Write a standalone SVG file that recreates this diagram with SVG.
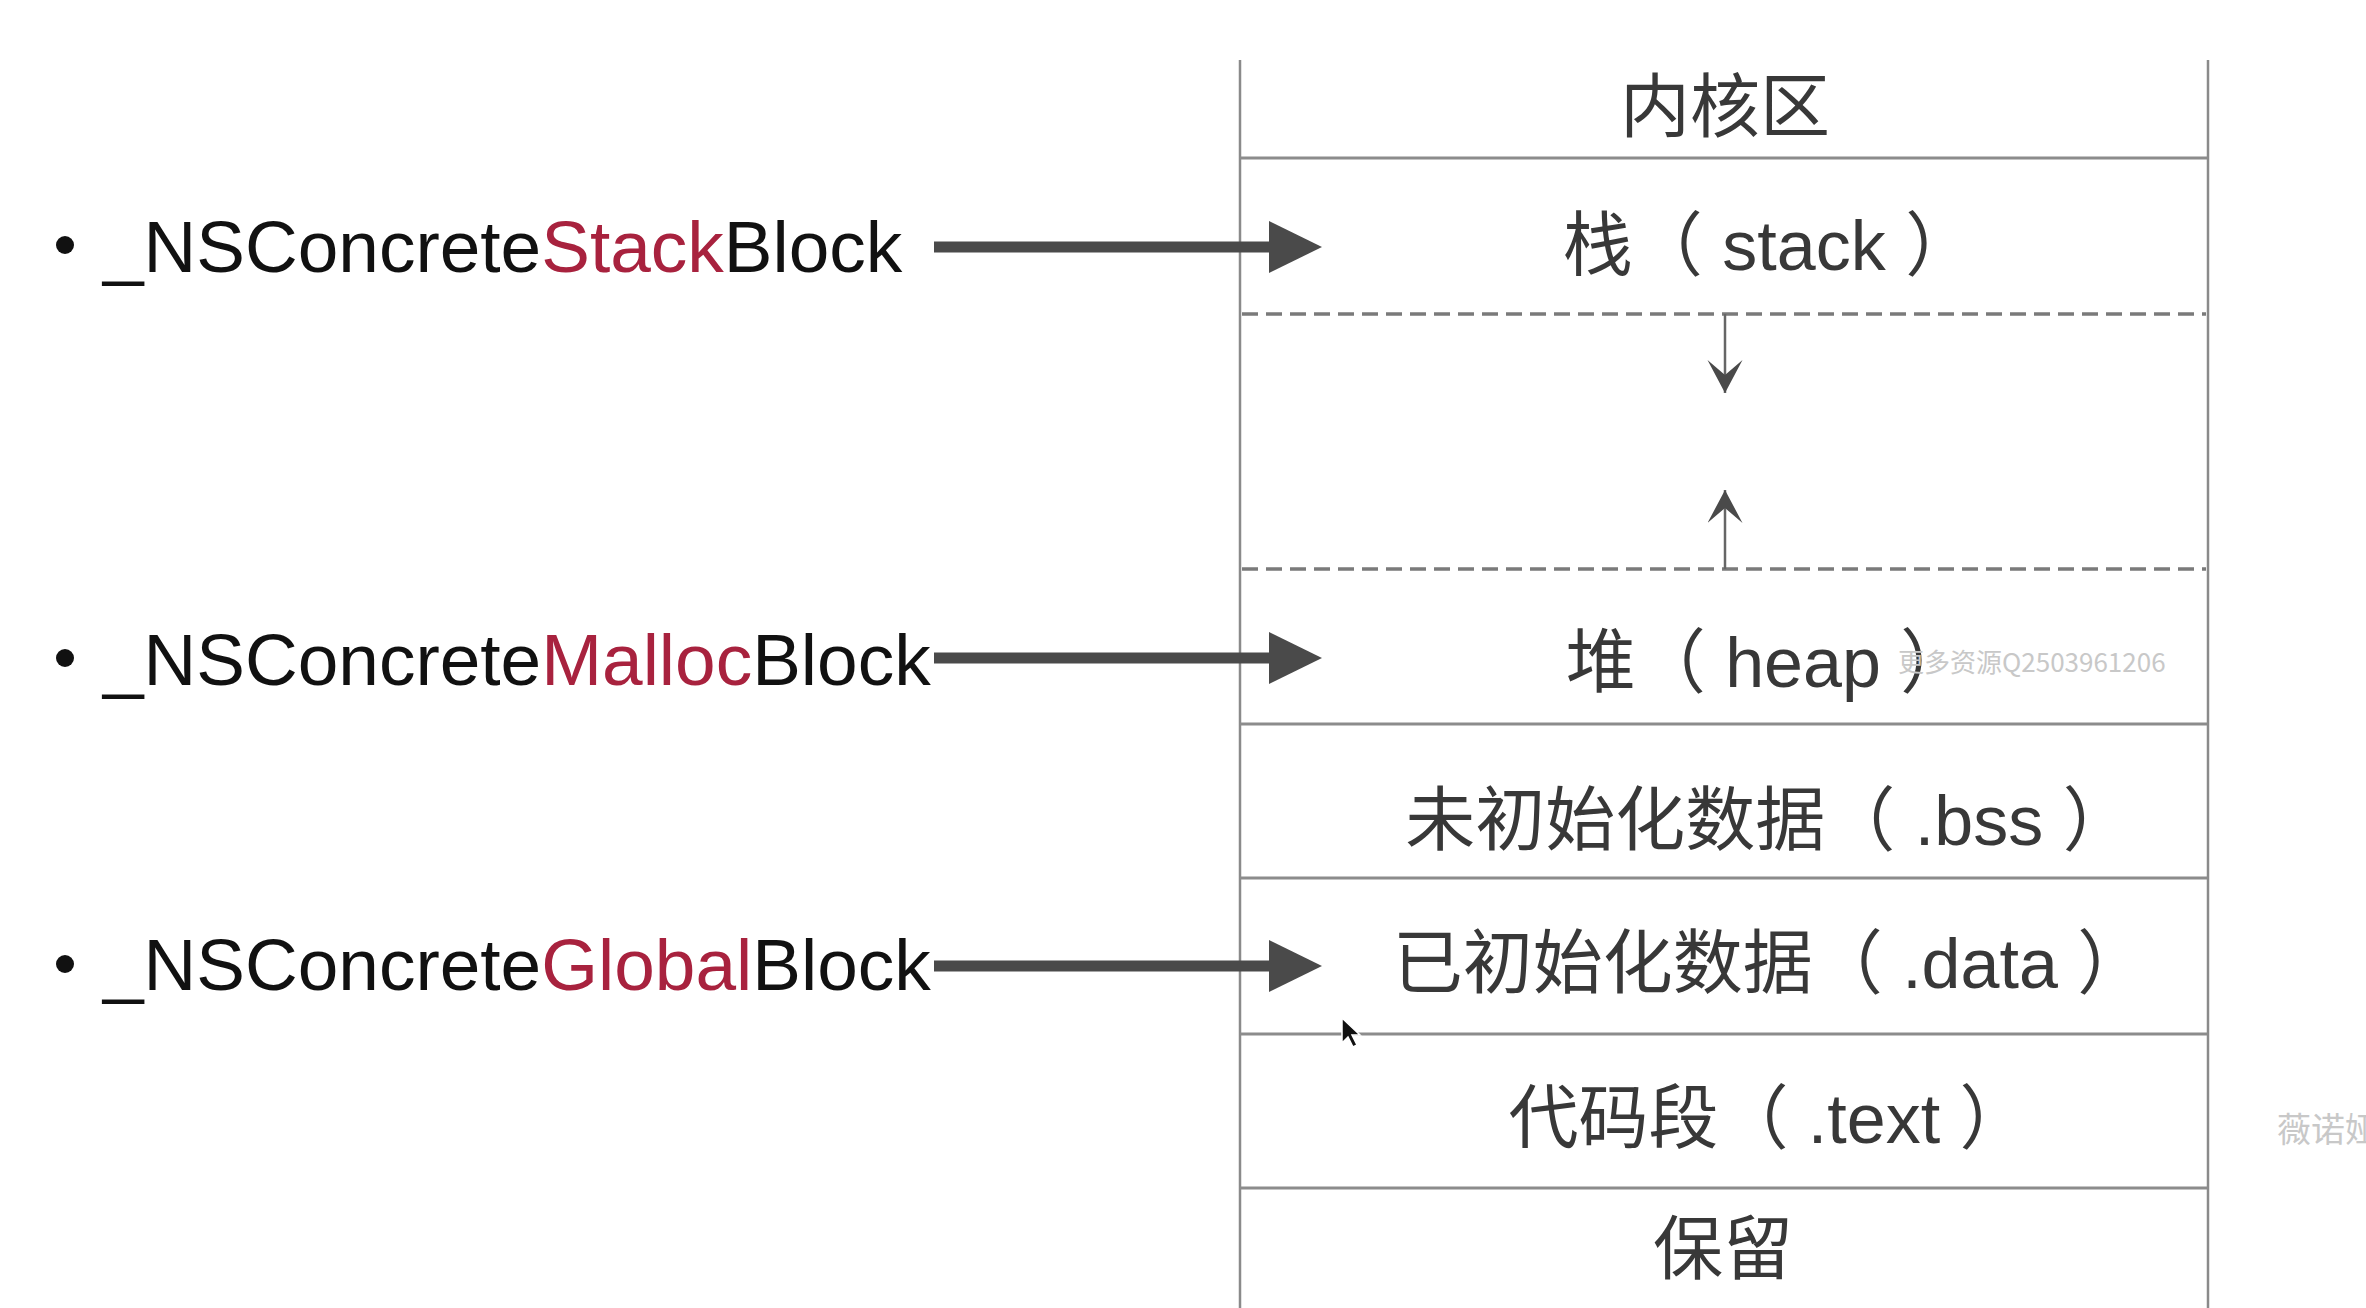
<svg xmlns="http://www.w3.org/2000/svg" width="2366" height="1308" viewBox="0 0 2366 1308">
<style>
.frame{stroke:#8a8a8a;stroke-width:2.5;fill:none}
.sep{stroke:#8c8c8c;stroke-width:3;fill:none}
.dash{stroke:#7a7a7a;stroke-width:3.5;stroke-dasharray:16 8;fill:none}
.seg{font-family:"Liberation Sans","Noto Sans CJK SC",sans-serif;font-size:70px;fill:#383838;text-anchor:middle}
.lbl{font-family:"Liberation Sans","Noto Sans CJK SC",sans-serif;font-size:73px;fill:#111}
.red{fill:#a8223e}
.big{stroke:#4a4a4a;stroke-width:11;fill:none}
.small{stroke:#666;stroke-width:2.5;fill:none}
.wm{font-family:"Noto Sans CJK SC",sans-serif;fill:#c8c8c8}
</style>
<defs>
<marker id="bigHead" markerUnits="userSpaceOnUse" markerWidth="56" markerHeight="54" refX="3" refY="26" orient="auto">
<path d="M0,0 L53,26 L0,52 z" fill="#4a4a4a"/>
</marker>
<marker id="smallHead" markerUnits="userSpaceOnUse" markerWidth="36" markerHeight="36" refX="33" refY="17.5" orient="auto">
<path d="M0,0 L33,17.5 L0,35 L15,17.5 z" fill="#4a4a4a"/>
</marker>
</defs>
<rect width="2366" height="1308" fill="#ffffff"/>

<g id="memory-frame">
<line class="frame" x1="1240" y1="60" x2="1240" y2="1308"/>
<line class="frame" x1="2208" y1="60" x2="2208" y2="1308"/>
</g>

<g id="seg-kernel">
<text class="seg" x="1725" y="132">内核区</text>
<line class="sep" x1="1240" y1="158" x2="2208" y2="158"/>
</g>
<g id="seg-stack">
<text class="seg" x="1769" y="270" xml:space="preserve">栈（ stack ）</text>
<line class="dash" x1="1242" y1="314" x2="2206" y2="314"/>
</g>
<g id="seg-free">
<line class="dash" x1="1242" y1="569" x2="2206" y2="569"/>
</g>
<g id="seg-heap">
<text class="seg" x="1768" y="687" xml:space="preserve">堆（ heap ）</text>
<line class="sep" x1="1240" y1="724" x2="2208" y2="724"/>
</g>
<g id="seg-bss">
<text class="seg" x="1769" y="845" xml:space="preserve">未初始化数据（ .bss ）</text>
<line class="sep" x1="1240" y1="878" x2="2208" y2="878"/>
</g>
<g id="seg-data">
<text class="seg" x="1770" y="988" xml:space="preserve">已初始化数据（ .data ）</text>
<line class="sep" x1="1240" y1="1034" x2="2208" y2="1034"/>
</g>
<g id="seg-text">
<text class="seg" x="1769" y="1143" xml:space="preserve">代码段（ .text ）</text>
<line class="sep" x1="1240" y1="1188" x2="2208" y2="1188"/>
</g>
<g id="seg-reserved">
<text class="seg" x="1723" y="1274">保留</text>
</g>

<g id="label-stack">
<circle cx="65" cy="245" r="9" fill="#111"/>
<text class="lbl" x="103" y="272">_NSConcrete<tspan class="red">Stack</tspan>Block</text>
</g>
<g id="label-malloc">
<circle cx="65" cy="658" r="9" fill="#111"/>
<text class="lbl" x="103" y="685">_NSConcrete<tspan class="red">Malloc</tspan>Block</text>
</g>
<g id="label-global">
<circle cx="65" cy="964" r="9" fill="#111"/>
<text class="lbl" x="103" y="990">_NSConcrete<tspan class="red">Global</tspan>Block</text>
</g>

<g id="connectors">
<line class="big" x1="934" y1="247" x2="1272" y2="247" marker-end="url(#bigHead)"/>
<line class="big" x1="934" y1="658" x2="1272" y2="658" marker-end="url(#bigHead)"/>
<line class="big" x1="934" y1="966" x2="1272" y2="966" marker-end="url(#bigHead)"/>
<line class="small" x1="1725" y1="314" x2="1725" y2="393" marker-end="url(#smallHead)"/>
<line class="small" x1="1725" y1="569" x2="1725" y2="490" marker-end="url(#smallHead)"/>
</g>

<g id="watermarks">
<text class="wm" x="1898" y="672" font-size="26">更多资源Q2503961206</text>
<text class="wm" x="2277" y="1142" font-size="34">薇诺娅</text>
</g>

<path id="cursor" d="M1342,1018 L1342,1043 L1348,1037 L1353,1047 L1357,1045 L1352,1035 L1360,1035 Z" fill="#111" stroke="#fff" stroke-width="1.5"/>
</svg>
